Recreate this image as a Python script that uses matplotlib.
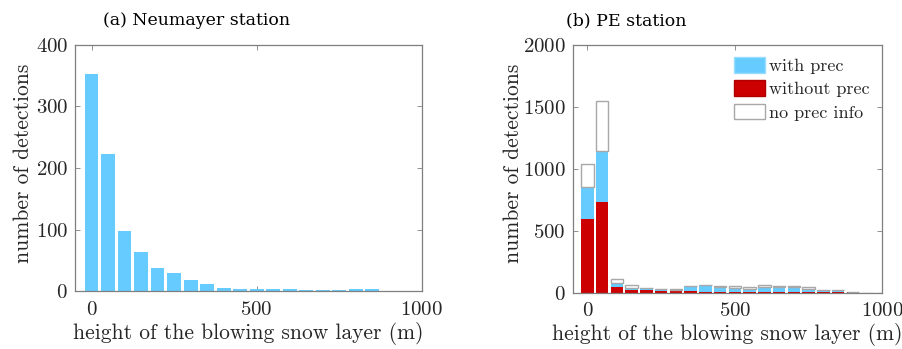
import matplotlib
matplotlib.use("Agg")
import matplotlib.pyplot as plt
from matplotlib.patches import Patch
import numpy as np

# ---- data ----
bins_a = [0, 50, 100, 150, 200, 250, 300, 350, 400, 450, 500, 550, 600, 650, 700, 750, 800, 850, 900, 950, 1000]
counts_a = [352, 222, 97, 64, 37, 29, 19, 12, 6, 4, 4, 4, 3, 2, 2, 2, 3, 3, 0, 0, 1]

bins_b = [0, 50, 100, 150, 200, 250, 300, 350, 400, 450, 500, 550, 600, 650, 700, 750, 800, 850, 900, 950, 1000]
without_prec = [594, 726, 48, 24, 18, 13, 13, 13, 6, 6, 6, 3, 6, 6, 3, 3, 3, 6, 6, 0, 0]
with_prec = [253, 414, 27, 11, 20, 17, 7, 39, 54, 42, 32, 25, 38, 35, 41, 27, 19, 18, 0, 0, 0]
no_prec_info = [191, 403, 32, 27, 2, 2, 12, 4, 4, 8, 13, 18, 18, 10, 7, 13, 0, 0, 0, 0, 0]

title_a = "(a) Neumayer station"
title_b = "(b) PE station"
xlabel = "height of the blowing snow layer (m)"
ylabel = "number of detections"
legend_labels = ["with prec", "without prec", "no prec info"]

# ---- style ----
BLUE = "#66CCFF"
RED = "#CC0000"
SPINE = "#7f7f7f"
TXT = "#262626"

plt.rcParams['font.family'] = ['cmr10', 'DejaVu Serif']
plt.rcParams['axes.formatter.use_mathtext'] = True
plt.rcParams['mathtext.fontset'] = 'cm'

W, H = 902, 349
fig = plt.figure(figsize=(W / 100, H / 100), dpi=100)

def px_axes(l, t, r, b):
    return fig.add_axes([l / W, 1 - b / H, (r - l) / W, (b - t) / H])

axA = px_axes(75, 44.5, 421.7, 291.3)
axB = px_axes(572.7, 44.5, 882.3, 292.5)

barw = 42

axA.bar(bins_a, counts_a, width=barw, color=BLUE, linewidth=0, zorder=2)

wo = np.array(without_prec)
wi = np.array(with_prec)
npi = np.array(no_prec_info)
axB.bar(bins_b, wo, width=barw, color=RED, linewidth=0, zorder=2)
axB.bar(bins_b, wi, bottom=wo, width=barw, color=BLUE, linewidth=0, zorder=2)
axB.bar(bins_b, npi, bottom=wo + wi, width=barw, color="white", edgecolor="#A8A8A8", linewidth=1.0, zorder=2)

for ax, ymax, yt in [(axA, 400, [0, 100, 200, 300, 400]), (axB, 2000, [0, 500, 1000, 1500, 2000])]:
    ax.set_xlim(-50, 1000)
    ax.set_ylim(0, ymax)
    ax.set_xticks([0, 500, 1000])
    ax.set_yticks(yt)
    ax.tick_params(direction='in', length=3.5, width=0.6, color=SPINE,
                   top=True, right=True, labelsize=15, labelcolor=TXT, pad=5)
    ax.tick_params(axis='x', pad=7)
    for s in ax.spines.values():
        s.set_color(SPINE)
        s.set_linewidth(0.9)
    ax.set_xlabel(xlabel, fontsize=15.5, color=TXT, labelpad=2)

fig.text(23 / W, 1 - 163 / H, ylabel, rotation=90, ha='center', va='center', fontsize=15.5, color=TXT)
fig.text(513 / W, 1 - 163 / H, ylabel, rotation=90, ha='center', va='center', fontsize=15.5, color=TXT)

fig.text(103 / W, 1 - 25 / H, title_a, ha='left', va='baseline', fontsize=12.5,
         family=['DejaVu Serif'], color="black")
fig.text(566 / W, 1 - 25 / H, title_b, ha='left', va='baseline', fontsize=12.5,
         family=['DejaVu Serif'], color="black")

handles = [Patch(facecolor=BLUE, edgecolor="#9ADDFF"),
           Patch(facecolor=RED, edgecolor="#B00000"),
           Patch(facecolor="white", edgecolor="#A8A8A8")]
axB.legend(handles, legend_labels, loc='upper right', frameon=False, fontsize=13,
           handlelength=1.7, handleheight=0.95, handletextpad=0.25, labelspacing=0.35,
           borderaxespad=0.3, labelcolor=TXT)

fig.savefig("out.png", dpi=100)
